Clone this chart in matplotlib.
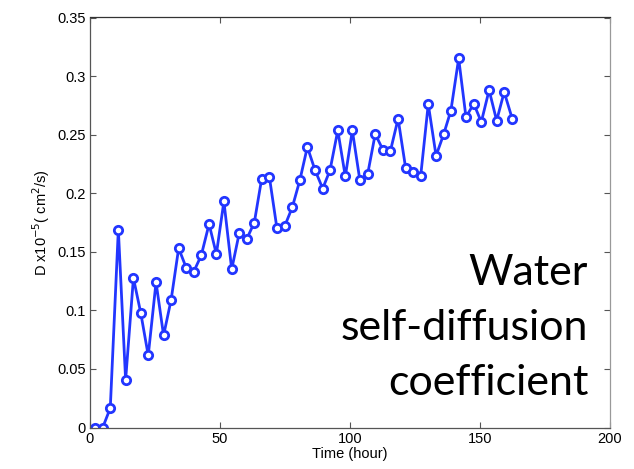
import matplotlib
matplotlib.use("Agg")
import matplotlib.pyplot as plt

time_hour = [1.9, 4.9, 7.8, 10.9, 13.7, 16.7, 19.5, 22.4, 25.4, 28.3,
             31.2, 34.1, 37.0, 39.9, 42.8, 45.8, 48.6, 51.5, 54.5, 57.4,
             60.3, 63.2, 66.0, 69.0, 71.9, 74.9, 77.8, 80.7, 83.6, 86.5,
             89.5, 92.3, 95.3, 98.2, 100.9, 103.8, 106.8, 109.7, 112.7, 115.5,
             118.5, 121.4, 124.3, 127.2, 130.1, 133.1, 136.0, 138.8, 141.8, 144.6,
             147.6, 150.5, 153.5, 156.4, 159.3, 162.4]
diff_coef = [0.0, 0.0, 0.0166, 0.169, 0.0405, 0.1276, 0.098, 0.0615, 0.124, 0.0786,
             0.109, 0.153, 0.1364, 0.133, 0.147, 0.1737, 0.148, 0.193, 0.135, 0.166,
             0.161, 0.175, 0.212, 0.2138, 0.170, 0.172, 0.188, 0.211, 0.2395, 0.220,
             0.204, 0.2195, 0.2536, 0.2143, 0.2536, 0.211, 0.2164, 0.2505, 0.2369, 0.2357,
             0.2636, 0.2215, 0.218, 0.215, 0.276, 0.232, 0.2502, 0.2705, 0.315, 0.265,
             0.2764, 0.2608, 0.288, 0.262, 0.2864, 0.2636]
x_ticks = [0, 50, 100, 150, 200]
y_ticks = [0, 0.05, 0.1, 0.15, 0.2, 0.25, 0.3, 0.35]
y_tick_labels = ["0", "0.05", "0.1", "0.15", "0.2", "0.25", "0.3", "0.35"]

plt.rcParams['font.family'] = ['Liberation Sans', 'DejaVu Sans']

fig = plt.figure(figsize=(6.34, 4.69), dpi=100)
ax = fig.add_axes([90/634, 1-427.5/469, 520/634, 410/469])

blue = '#2236ff'
ax.plot(time_hour, diff_coef, color=blue, lw=2.0, marker='o', ms=6,
        mfc='white', mec=blue, mew=2.0, solid_joinstyle='round')

ax.set_xlim(0, 200)
ax.set_ylim(0, 0.35)
ax.set_xticks(x_ticks)
ax.set_xticklabels([str(t) for t in x_ticks])
ax.set_yticks(y_ticks)
ax.set_yticklabels(y_tick_labels)
ax.tick_params(direction='in', top=True, right=True, length=4, width=0.8,
               labelsize=10.5, colors='#555555', labelcolor='black', pad=3)
for s in ax.spines.values():
    s.set_color('#555555')
    s.set_linewidth(0.9)
ax.spines['top'].set_color('#333333')
ax.spines['right'].set_color('#999999')

ax.set_xlabel('Time (hour)', fontsize=10.5, labelpad=1)
ax.set_ylabel(r'D x10$^{-5}$( cm$^2$/s)', fontsize=10.5, labelpad=4)

ax.text(0.958, 0.242, 'Water\nself-diffusion\ncoefficient', transform=ax.transAxes,
        ha='right', va='center', fontsize=31, family=['Lato', 'DejaVu Sans'],
        linespacing=1.55, color='black')

fig.savefig('out.png', dpi=100)
